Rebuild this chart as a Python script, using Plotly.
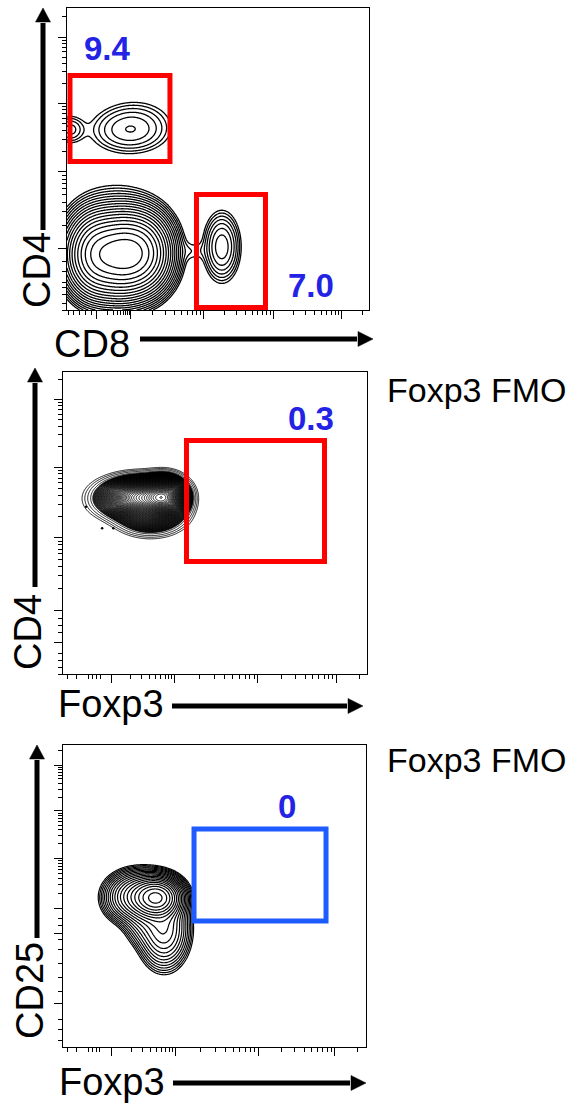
import numpy as np
import plotly.graph_objects as go

W, H = 574, 1106
FONT = "Liberation Sans, Arial, sans-serif"
RNG = [0.0, 4.35]  # display range in log decades

# ---------------- Panel 1 : CD8 (x) vs CD4 (y) ----------------
P1_CX = [0.90, 0.05, 1.00, 0.45, 0.78, 1.05, 0.70, 2.23, 1.82]
P1_CY = [2.58, 2.60, 2.78, 0.80, 0.80, 0.82, 1.00, 0.91, 0.85]
P1_SX = [0.31, 0.12, 0.30, 0.20, 0.20, 0.20, 0.35, 0.13, 0.12]
P1_SY = [0.18, 0.12, 0.18, 0.26, 0.26, 0.25, 0.38, 0.245, 0.10]
P1_AMP = [0.016, 0.010, 0.004, 0.8, 1.0, 0.8, 0.02, 0.032, 0.0035]
P1_LEVELS = [dict(start=-2.5, end=0.4, size=0.15)]
P1_GATES = [[0.043, 2.139, 1.483, 3.378], [1.865, 0.036, 2.859, 1.664]]
P1_GATE_COLOR = ["#ff0000", "#ff0000"]
P1_LABELS = ["9.4", "7.0"]
P1_LABEL_X = [0.59, 3.51]
P1_LABEL_Y = [3.76, 0.35]
P1_X_DECADES = [0.43, 0.92, 1.97, 2.97, 3.96, 4.96]
P1_X_EXTRA = [0.02, 0.10, 0.18, 0.26, 0.36]
P1_Y_DECADES = [0.89, 1.99, 2.98, 3.93, 4.90]
P1_Y_EXTRA = [0.0, 0.10, 0.22, 0.33, 0.40, 0.55, 0.70]

# ---------------- Panel 2 : Foxp3 (x) vs CD4 (y) ----------------
P2_CX = [1.45, 1.10, 0.75, 1.25]
P2_CY = [2.55, 2.55, 2.52, 2.30]
P2_SX = [0.16, 0.25, 0.25, 0.25]
P2_SY = [0.14, 0.14, 0.16, 0.15]
P2_AMP = [1.0, 0.7, 0.06, 0.2]
P2_LEVELS = [dict(start=-1.9, end=-1.4, size=0.15), dict(start=-1.35, end=0.3, size=0.025)]
P2_DOT_X = [0.33, 0.56, 0.72]
P2_DOT_Y = [2.41, 2.10, 2.10]
P2_GATES = [[1.767, 1.620, 3.742, 3.363]]
P2_GATE_COLOR = ["#ff0000"]
P2_LABELS = ["0.3"]
P2_LABEL_X = [3.548]
P2_LABEL_Y = [3.687]
P2_X_DECADES = [0.70, 1.60, 2.79, 3.91, 5.00]
P2_X_EXTRA = [0.06, 0.20, 0.36, 0.42, 0.48, 0.53]
P2_Y_DECADES = [0.92, 1.96, 2.98, 3.96, 4.90]
P2_Y_EXTRA = [0.0, 0.10, 0.20, 0.30, 0.45, 0.60, 0.70, 0.80]

# ---------------- Panel 3 : Foxp3 (x) vs CD25 (y) ----------------
P3_CX = [1.35, 1.10, 1.45, 0.90, 1.15]
P3_CY = [2.15, 2.18, 1.70, 2.10, 1.85]
P3_SX = [0.17, 0.22, 0.18, 0.18, 0.16]
P3_SY = [0.14, 0.17, 0.28, 0.18, 0.20]
P3_AMP = [1.0, 0.30, 0.18, 0.04, 0.06]
P3_LEVELS = [dict(start=-1.95, end=0.3, size=0.11)]
P3_GATES = [[1.881, 1.815, 3.776, 3.140]]
P3_GATE_COLOR = ["#1f5cff"]
P3_LABELS = ["0"]
P3_LABEL_X = [3.216]
P3_LABEL_Y = [3.471]
P3_X_DECADES = [0.70, 1.62, 2.80, 3.90, 5.00]
P3_X_EXTRA = [0.06, 0.20, 0.36, 0.42, 0.48, 0.53]
P3_Y_DECADES = [1.99, 2.72, 3.40, 4.06, 4.75]
P3_Y_EXTRA = [0.10, 0.25, 0.40, 0.63, 0.80, 1.00, 1.20, 1.40, 1.55, 1.64, 1.75, 1.85]
P3_Y_MAJOR_EXTRA = [0.63, 1.64]

AXIS_TITLES = [("CD8", "CD4"), ("Foxp3", "CD4"), ("Foxp3", "CD25")]
SIDE_NOTES = ["", "Foxp3 FMO", "Foxp3 FMO"]
LABEL_BLUE = "#2323e6"

# pixel geometry of the three plot boxes (left, top, right, bottom)
BOXES = [(67, 8, 369, 310), (63, 372, 367, 674), (63, 745, 366, 1047)]


def density(cx, cy, sx, sy, amp):
    g = np.linspace(RNG[0], RNG[1], 400)
    X, Y = np.meshgrid(g, g)
    Z = np.zeros_like(X)
    for a, b, c, d, e in zip(cx, cy, sx, sy, amp):
        Z += e * np.exp(-0.5 * ((X - a) / c) ** 2 - 0.5 * ((Y - b) / d) ** 2)
    return g, np.log10(Z + 1e-12)


def minor_ticks(decades, extra):
    vals = list(extra)
    for a, b in zip(decades[:-1], decades[1:]):
        vals += [a + (b - a) * np.log10(k) for k in range(2, 10)]
    return [v for v in vals if RNG[0] <= v <= RNG[1]]


def axis(domain, anchor, major, minor):
    return dict(domain=domain, anchor=anchor, range=RNG, showline=True, mirror=True,
                linecolor="black", linewidth=1, ticks="outside", ticklen=8, tickwidth=1,
                tickcolor="black", tickmode="array", tickvals=major, showticklabels=False,
                showgrid=False, zeroline=False, fixedrange=True,
                minor=dict(tickmode="array", tickvals=minor, ticks="outside", ticklen=4,
                           tickwidth=1, tickcolor="black", showgrid=False))


def px(x):
    return x / W


def py(y):
    return 1 - y / H


fig = go.Figure()
panels = [
    (P1_CX, P1_CY, P1_SX, P1_SY, P1_AMP, P1_LEVELS, 1.3),
    (P2_CX, P2_CY, P2_SX, P2_SY, P2_AMP, P2_LEVELS, 0.9),
    (P3_CX, P3_CY, P3_SX, P3_SY, P3_AMP, P3_LEVELS, 1.2),
]
for i, (cx, cy, sx, sy, amp, levs, lw) in enumerate(panels):
    g, Z = density(cx, cy, sx, sy, amp)
    sfx = "" if i == 0 else str(i + 1)
    for lev in levs:
        fig.add_trace(go.Contour(
            x=g, y=g, z=Z, xaxis="x" + sfx, yaxis="y" + sfx,
            contours=dict(coloring="lines", showlines=True, **lev),
            colorscale=[[0, "black"], [1, "black"]], showscale=False,
            line=dict(width=lw), hoverinfo="skip"))

fig.add_trace(go.Scatter(x=P2_DOT_X, y=P2_DOT_Y, xaxis="x2", yaxis="y2", mode="markers",
                         marker=dict(color="black", size=2.5), hoverinfo="skip"))

layout = dict(width=W, height=H, margin=dict(l=0, r=0, t=0, b=0),
              paper_bgcolor="white", plot_bgcolor="white", showlegend=False,
              font=dict(family=FONT, color="black"))

xdec = [P1_X_DECADES, P2_X_DECADES, P3_X_DECADES]
xext = [P1_X_EXTRA, P2_X_EXTRA, P3_X_EXTRA]
ydec = [P1_Y_DECADES, P2_Y_DECADES, P3_Y_DECADES]
yext = [P1_Y_EXTRA, P2_Y_EXTRA, P3_Y_EXTRA]
ymaj_extra = [[], [0.45], P3_Y_MAJOR_EXTRA]
for i, (l, t, r, b) in enumerate(BOXES):
    sfx = "" if i == 0 else str(i + 1)
    xd = [px(l), px(r)]
    yd = [py(b), py(t)]
    xmaj = [v for v in xdec[i] if v <= RNG[1]]
    ymaj = [v for v in ydec[i] + ymaj_extra[i] if v <= RNG[1]]
    layout["xaxis" + sfx] = axis(xd, "y" + sfx, xmaj, minor_ticks(xdec[i], xext[i]))
    layout["yaxis" + sfx] = axis(yd, "x" + sfx, ymaj, minor_ticks(ydec[i], yext[i]))
fig.update_layout(**layout)

# gates
gate_sets = [(P1_GATES, P1_GATE_COLOR), (P2_GATES, P2_GATE_COLOR), (P3_GATES, P3_GATE_COLOR)]
for i, (gates, cols) in enumerate(gate_sets):
    sfx = "" if i == 0 else str(i + 1)
    for (x0, y0, x1, y1), c in zip(gates, cols):
        fig.add_shape(type="rect", xref="x" + sfx, yref="y" + sfx, x0=x0, y0=y0, x1=x1, y1=y1,
                      line=dict(color=c, width=5), fillcolor="rgba(0,0,0,0)")

# gate percentages
lab_sets = [(P1_LABELS, P1_LABEL_X, P1_LABEL_Y), (P2_LABELS, P2_LABEL_X, P2_LABEL_Y),
            (P3_LABELS, P3_LABEL_X, P3_LABEL_Y)]
for i, (labs, lx, ly) in enumerate(lab_sets):
    sfx = "" if i == 0 else str(i + 1)
    for t, x, y in zip(labs, lx, ly):
        fig.add_annotation(text="<b>%s</b>" % t, x=x, y=y, xref="x" + sfx, yref="y" + sfx,
                           showarrow=False, xanchor="center", yanchor="middle",
                           font=dict(size=33, color=LABEL_BLUE, family=FONT))

# axis titles with arrows (pixel layout)
XT_POS = [(92, 344), (111, 704), (112, 1082)]
YT_POS = [(37, 270), (28, 632), (30, 991)]
for i in range(3):
    xt, yt = AXIS_TITLES[i]
    fig.add_annotation(text=xt, x=px(XT_POS[i][0]), y=py(XT_POS[i][1]), xref="paper", yref="paper",
                       showarrow=False, xanchor="center", yanchor="middle",
                       font=dict(size=38, family=FONT, color="black"))
    fig.add_annotation(text=yt, x=px(YT_POS[i][0]), y=py(YT_POS[i][1]), xref="paper", yref="paper",
                       showarrow=False, xanchor="center", yanchor="middle", textangle=-90,
                       font=dict(size=38, family=FONT, color="black"))

for i, note in enumerate(SIDE_NOTES):
    if note:
        yy = [0, 390, 760][i]
        fig.add_annotation(text=note, x=px(385), y=py(yy), xref="paper", yref="paper",
                           showarrow=False, xanchor="left", yanchor="middle",
                           font=dict(size=34, family=FONT, color="black"))

# arrows: (x, y_line_start, y_base, y_tip) vertical ; (y, x_start, x_base, x_tip) horizontal
V_ARROWS = [(43, 230, 22, 8), (35, 587, 382, 368), (37, 938, 759, 745)]
H_ARROWS = [(339, 140, 358, 373), (706, 172, 348, 363), (1083, 173, 351, 366)]
HW = 7.5
for x, ys, yb, yt in V_ARROWS:
    fig.add_shape(type="line", xref="paper", yref="paper", x0=px(x), x1=px(x), y0=py(ys), y1=py(yb + 1),
                  line=dict(color="black", width=5))
    fig.add_shape(type="path", xref="paper", yref="paper",
                  path="M %f %f L %f %f L %f %f Z" % (px(x - HW), py(yb), px(x + HW), py(yb), px(x), py(yt)),
                  fillcolor="black", line=dict(color="black", width=0.5))
for y, xs, xb, xt in H_ARROWS:
    fig.add_shape(type="line", xref="paper", yref="paper", x0=px(xs), x1=px(xb - 1), y0=py(y), y1=py(y),
                  line=dict(color="black", width=5))
    fig.add_shape(type="path", xref="paper", yref="paper",
                  path="M %f %f L %f %f L %f %f Z" % (px(xb), py(y - HW), px(xb), py(y + HW), px(xt), py(y)),
                  fillcolor="black", line=dict(color="black", width=0.5))

fig.write_html("out.html", config={"displayModeBar": False},
               post_script="document.body.style.margin='0';document.body.style.padding='0';")
